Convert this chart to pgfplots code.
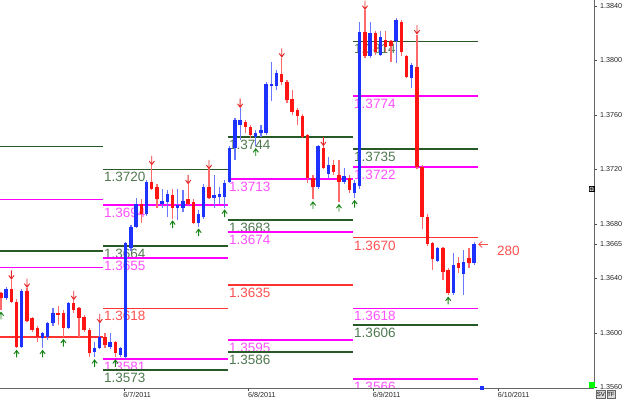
\documentclass[border=0pt]{standalone}
\usepackage{fontspec}
\setmainfont{Liberation Sans}
\usepackage{pgfplots}
\usepackage{pgfplotstable}
\pgfplotsset{compat=1.18}
\usetikzlibrary{arrows.meta}

\definecolor{bodyblue}{RGB}{30,50,255}
\definecolor{wickblue}{RGB}{105,120,255}
\definecolor{bodyred}{RGB}{255,20,20}
\definecolor{wickred}{RGB}{255,105,105}
\definecolor{lvgreen}{RGB}{40,90,40}
\definecolor{lbgreen}{RGB}{80,120,80}
\definecolor{lvmag}{RGB}{255,0,255}
\definecolor{lbmag}{RGB}{255,80,255}
\definecolor{lvred}{RGB}{255,50,50}
\definecolor{lbred}{RGB}{255,80,80}
\definecolor{arred}{RGB}{230,40,40}
\definecolor{argreen}{RGB}{20,130,20}

\pgfdeclareplotmark{dnarrow}{%
  \pgfpathmoveto{\pgfqpoint{0pt}{0.8pt}}\pgfpathlineto{\pgfqpoint{0pt}{9.5pt}}%
  \pgfpathmoveto{\pgfqpoint{-2.6pt}{4.4pt}}\pgfpathlineto{\pgfqpoint{0pt}{0.8pt}}\pgfpathlineto{\pgfqpoint{2.6pt}{4.4pt}}%
  \pgfusepathqstroke}
\pgfdeclareplotmark{uparrow}{%
  \pgfpathmoveto{\pgfqpoint{0pt}{-2.5pt}}\pgfpathlineto{\pgfqpoint{0pt}{-9.5pt}}%
  \pgfpathmoveto{\pgfqpoint{-2.6pt}{-6pt}}\pgfpathlineto{\pgfqpoint{0pt}{-2.5pt}}\pgfpathlineto{\pgfqpoint{2.6pt}{-6pt}}%
  \pgfusepathqstroke}
\pgfdeclareplotmark{nothing}{}

\newcommand{\lvfont}{\fontsize{13.5}{14}\selectfont}
% level line with label: x1, x2, price, line colour, text colour
\newcommand{\lv}[5]{%
  \addplot[#4, line width=1.6pt, forget plot] coordinates {(#1,#3) (#2,#3)};
  \node[anchor=north west, inner sep=0pt, text=#5, font=\lvfont, xshift=1pt, yshift=-2.8pt] at (axis cs:#1,#3) {#3};}
% level line without visible label
\newcommand{\lvn}[4]{%
  \addplot[#4, line width=1.6pt, forget plot] coordinates {(#1,#3) (#2,#3)};}

% candles: k (hour index), open, high, low, close
\pgfplotstableread{
k o h l c
1 1.3626 1.3634 1.3624 1.3632
4 1.3590 1.3632 1.3589 1.3631
8 1.3596 1.3601 1.3589 1.3600
9 1.3597 1.3608 1.3595 1.3607
10 1.3607 1.3618 1.3605 1.3615
13 1.3604 1.3623 1.3603 1.3622
18 1.3586 1.3593 1.3582 1.3589
19 1.3589 1.3607 1.3588 1.3597
21 1.3590 1.3600 1.3588 1.3593
23 1.3584 1.3590 1.3582 1.3589
24 1.3582 1.3667 1.3581 1.3666
25 1.3662 1.3679 1.3660 1.3678
26 1.3678 1.3699 1.3677 1.3695
28 1.3687 1.3712 1.3686 1.3711
31 1.3695 1.3706 1.3692 1.3697
32 1.3696 1.3705 1.3685 1.3702
34 1.3692 1.3706 1.3683 1.3694
35 1.3692 1.3705 1.3689 1.3697
38 1.3681 1.3690 1.3678 1.3687
39 1.3685 1.3709 1.3684 1.3707
41 1.3699 1.3716 1.3692 1.3701
42 1.3700 1.3707 1.3695 1.3702
43 1.3700 1.3712 1.3692 1.3710
44 1.3711 1.3737 1.3710 1.3736
45 1.3736 1.3758 1.3727 1.3756
46 1.3753 1.3765 1.3742 1.3756
49 1.3744 1.3749 1.3737 1.3747
50 1.3747 1.3753 1.3744 1.3749
51 1.3747 1.3784 1.3745 1.3783
52 1.3781 1.3799 1.3770 1.3783
53 1.3781 1.3793 1.3778 1.3791
61 1.3707 1.3738 1.3706 1.3737
63 1.3717 1.3729 1.3714 1.3723
66 1.3711 1.3721 1.3709 1.3715
68 1.3703 1.3712 1.3699 1.3710
69 1.3708 1.3828 1.3706 1.3821
71 1.3803 1.3828 1.3802 1.3820
73 1.3804 1.3822 1.3803 1.3817
76 1.3814 1.3831 1.3798 1.3830
79 1.3787 1.3798 1.3780 1.3797
84 1.3653 1.3663 1.3652 1.3662
87 1.3629 1.3659 1.3628 1.3650
89 1.3643 1.3661 1.3628 1.3652
91 1.3651 1.3667 1.3650 1.3665
}\bull

\pgfplotstableread{
k o h l c
0 1.3629 1.3630 1.3617 1.3626
2 1.3632 1.3639 1.3622 1.3623
3 1.3623 1.3625 1.3589 1.3590
5 1.3631 1.3633 1.3608 1.3609
6 1.3611 1.3612 1.3601 1.3602
7 1.3604 1.3605 1.3593 1.3597
11 1.3615 1.3620 1.3606 1.3613
12 1.3615 1.3617 1.3597 1.3604
14 1.3622 1.3624 1.3615 1.3617
15 1.3618 1.3619 1.3597 1.3611
16 1.3612 1.3613 1.3601 1.3602
17 1.3602 1.3604 1.3582 1.3585
20 1.3597 1.3600 1.3589 1.3591
22 1.3593 1.3594 1.3582 1.3585
27 1.3695 1.3698 1.3681 1.3687
29 1.3711 1.3723 1.3705 1.3706
30 1.3707 1.3709 1.3692 1.3698
33 1.3701 1.3706 1.3684 1.3692
36 1.3698 1.3709 1.3694 1.3695
37 1.3696 1.3698 1.3680 1.3681
40 1.3707 1.3720 1.3698 1.3699
47 1.3755 1.3756 1.3747 1.3751
48 1.3751 1.3753 1.3743 1.3745
54 1.3790 1.3802 1.3782 1.3784
55 1.3784 1.3786 1.3769 1.3771
56 1.3772 1.3778 1.3760 1.3762
57 1.3764 1.3765 1.3753 1.3759
58 1.3759 1.3761 1.3743 1.3744
59 1.3745 1.3746 1.3710 1.3714
60 1.3714 1.3716 1.3698 1.3707
62 1.3736 1.3737 1.3720 1.3721
64 1.3723 1.3727 1.3716 1.3718
65 1.3716 1.3727 1.3696 1.3711
67 1.3714 1.3716 1.3703 1.3705
70 1.3821 1.3837 1.3802 1.3803
72 1.3820 1.3822 1.3804 1.3806
74 1.3815 1.3822 1.3806 1.3810
75 1.3814 1.3815 1.3799 1.3811
77 1.3828 1.3830 1.3803 1.3806
78 1.3803 1.3804 1.3787 1.3788
80 1.3795 1.3819 1.3720 1.3722
81 1.3722 1.3723 1.3676 1.3685
82 1.3685 1.3687 1.3664 1.3665
83 1.3666 1.3667 1.3646 1.3654
85 1.3662 1.3663 1.3639 1.3645
86 1.3646 1.3648 1.3628 1.3629
88 1.3651 1.3656 1.3644 1.3648
90 1.3655 1.3662 1.3648 1.3651
}\bear

\begin{document}
\begin{tikzpicture}
\path[use as bounding box] (0pt,-11pt) rectangle (625pt,388pt);
\begin{axis}[
  name=main, at={(0pt,0pt)}, anchor=south west,
  scale only axis, width=594pt, height=388pt,
  xmin=-0.192, xmax=114.04, ymin=1.35596, ymax=1.38444,
  axis x line=bottom, axis y line=right,
  axis line style={-, draw=black!60, line width=0.7pt},
  xtick={23.65,47.65,71.65,95.65},
  xticklabels={6/7/2011,6/8/2011,6/9/2011,6/10/2011},
  ytick={1.3560,1.3600,1.3640,1.3665,1.3680,1.3720,1.3760,1.3800,1.3840},
  yticklabels={1.3560,1.3600,1.3640,1.3665,1.3680,1.3720,1.3760,1.3800,1.3840},
  scaled ticks=false,
  tick align=outside, major tick length=3pt,
  tick style={draw=black!70, line width=0.6pt},
  ticklabel style={font=\fontsize{7.2}{8}\selectfont, text=black!85},
  xticklabel style={anchor=north west, inner sep=0pt, xshift=-0.8pt, yshift=-0.6pt},
  yticklabel style={anchor=west, inner sep=0pt, xshift=3pt},
  /pgf/number format/assume math mode=true,
]
% ---- pivot levels, day 6/6 (labels off the left edge)
\lvn{-0.3}{19.6}{1.3737}{lvgreen}
\lvn{-0.3}{19.6}{1.3698}{lvmag}
\lvn{-0.3}{19.6}{1.3660}{lvgreen}
\lvn{-0.3}{19.6}{1.3648}{lvmag}
\lvn{-0.3}{19.6}{1.3597}{lvred}
% ---- day 6/7
\lv{19.6}{43.65}{1.3720}{lvgreen}{lbgreen}
\lv{19.6}{43.65}{1.3694}{lvmag}{lbmag}
\lv{19.6}{43.65}{1.3664}{lvgreen}{lbgreen}
\lv{19.6}{43.65}{1.3655}{lvmag}{lbmag}
\lv{19.6}{43.65}{1.3618}{lvred}{lbred}
\lv{19.6}{43.65}{1.3581}{lvmag}{lbmag}
\lv{19.6}{43.65}{1.3573}{lvgreen}{lbgreen}
% ---- day 6/8
\lv{43.65}{67.7}{1.3744}{lvgreen}{lbgreen}
\lv{43.65}{67.7}{1.3713}{lvmag}{lbmag}
\lv{43.65}{67.7}{1.3683}{lvgreen}{lbgreen}
\lv{43.65}{67.7}{1.3674}{lvmag}{lbmag}
\lv{43.65}{67.7}{1.3635}{lvred}{lbred}
\lv{43.65}{67.7}{1.3595}{lvmag}{lbmag}
\lv{43.65}{67.7}{1.3586}{lvgreen}{lbgreen}
% ---- day 6/9
\lv{67.7}{91.7}{1.3814}{lvgreen}{lbgreen}
\lv{67.7}{91.7}{1.3774}{lvmag}{lbmag}
\lv{67.7}{91.7}{1.3735}{lvgreen}{lbgreen}
\lv{67.7}{91.7}{1.3722}{lvmag}{lbmag}
\lv{67.7}{91.7}{1.3670}{lvred}{lbred}
\lv{67.7}{91.7}{1.3618}{lvmag}{lbmag}
\lv{67.7}{91.7}{1.3606}{lvgreen}{lbgreen}
\lvn{67.7}{91.7}{1.3566}{lvmag}
\coordinate (lab1566) at (axis cs:67.7,1.3566);
\coordinate (aSW) at (rel axis cs:0,0);
\coordinate (aNE) at (rel axis cs:1,1);

% ---- wicks
\addplot[wickblue, only marks, mark=nothing, forget plot,
  error bars/.cd, y dir=plus, y explicit, error mark=none,
  error bar style={line width=1.2pt}]
  table[x=k, y=l, y error expr=\thisrow{h}-\thisrow{l}] {\bull};
\addplot[wickred, only marks, mark=nothing, forget plot,
  error bars/.cd, y dir=plus, y explicit, error mark=none,
  error bar style={line width=1.2pt}]
  table[x=k, y=l, y error expr=\thisrow{h}-\thisrow{l}] {\bear};
% ---- bodies
\addplot[bodyblue, only marks, mark=nothing, forget plot,
  error bars/.cd, y dir=plus, y explicit, error mark=none,
  error bar style={line width=3.4pt}]
  table[x=k, y=o, y error expr=\thisrow{c}-\thisrow{o}] {\bull};
\addplot[bodyred, only marks, mark=nothing, forget plot,
  error bars/.cd, y dir=plus, y explicit, error mark=none,
  error bar style={line width=3.4pt}]
  table[x=k, y=c, y error expr=\thisrow{o}-\thisrow{c}] {\bear};

% ---- fractal arrows
\addplot[arred, only marks, mark=dnarrow, mark options={line width=0.9pt}] coordinates {
 (2,1.3639) (5,1.3633) (14,1.3624) (19,1.3607) (29,1.3723) (36,1.3709)
 (40,1.3720) (46,1.3765) (54,1.3802) (62,1.3737) (70,1.3837) (80,1.3819)};
\addplot[argreen, only marks, mark=uparrow, mark options={line width=0.9pt}] coordinates {
 (0,1.3617) (3,1.3589) (8,1.3589) (12,1.3597) (18,1.3582) (22,1.3582)
 (33,1.3684) (38,1.3678) (43,1.3692) (49,1.3737) (60,1.3698) (65,1.3696)
 (68,1.3699) (86,1.3628)};

% ---- current bar marker on the time axis
\addplot[bodyblue, only marks, mark=square*, mark size=1.4pt] coordinates {(92.5,1.35596)};

% ---- last price pointer
\draw[lbred, line width=0.8pt, -{Straight Barb[length=3.5pt,width=6pt]}] (axis cs:93.6,1.3665) -- (axis cs:91.75,1.3665);
\node[anchor=west, inner sep=0pt, text=lbred, font=\lvfont] at (axis cs:95.35,1.3660) {280};
\end{axis}
% lowest level label, cut by the time axis as in the terminal
\begin{scope}
\clip (aSW) rectangle (aNE);
\node[anchor=north west, inner sep=0pt, text=lbmag, font=\lvfont, xshift=1pt, yshift=-2.8pt] at (lab1566) {1.3566};
\end{scope}
% ---- platform widgets
\node[draw=black, fill=black!75, text=white, inner sep=0.4pt, font=\fontsize{6}{6}\selectfont] at (591.5pt,199pt) {Ω};
\fill[green] (589pt,0.3pt) rectangle (594.5pt,5.5pt);
\node[draw=black!60, fill=black!15, inner sep=0.6pt, font=\fontsize{6}{6}\selectfont, anchor=north west, minimum height=7.5pt] at (596pt,-2.5pt) {SV};
\node[draw=black!60, fill=black!15, inner sep=0.6pt, font=\fontsize{6}{6}\selectfont, anchor=north west, minimum height=7.5pt] at (606.5pt,-2.5pt) {TF};
\end{tikzpicture}
\end{document}
